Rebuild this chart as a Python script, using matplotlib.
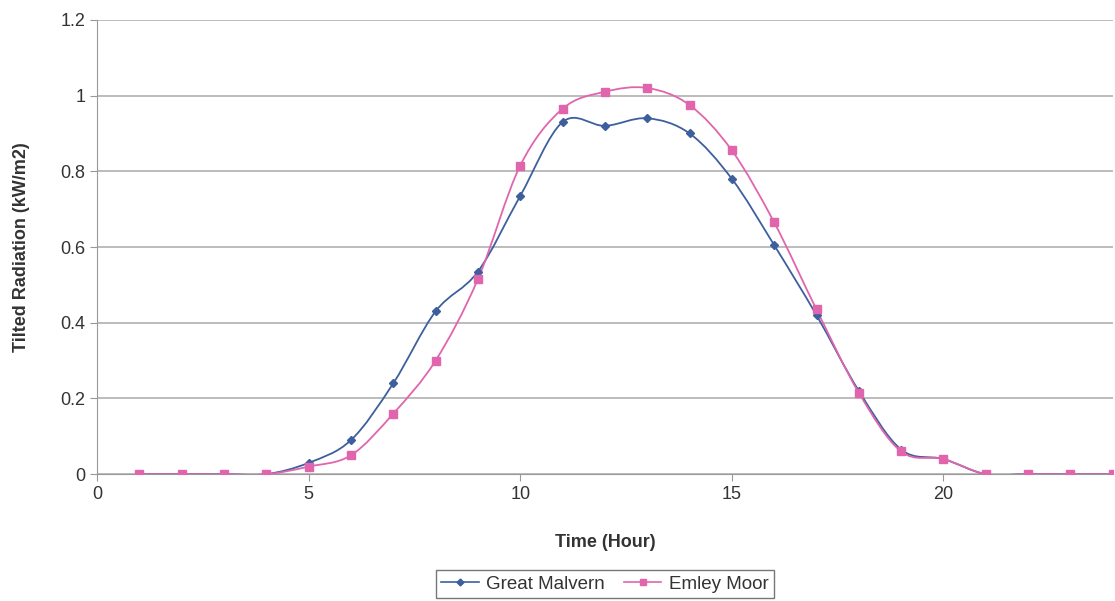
import matplotlib
matplotlib.use("Agg")
import matplotlib.pyplot as plt
from matplotlib.path import Path
from matplotlib.patches import PathPatch
from matplotlib.lines import Line2D

plt.rcParams["font.family"] = ["Liberation Sans", "DejaVu Sans"]

hours = list(range(1, 25))
great_malvern = [0, 0, 0, 0, 0.03, 0.09, 0.24, 0.43, 0.535, 0.735, 0.93, 0.92,
                 0.94, 0.90, 0.78, 0.605, 0.42, 0.22, 0.065, 0.04, 0, 0, 0, 0]
emley_moor = [0, 0, 0, 0, 0.02, 0.05, 0.16, 0.30, 0.515, 0.815, 0.965, 1.01,
              1.02, 0.975, 0.855, 0.665, 0.435, 0.215, 0.06, 0.04, 0, 0, 0, 0]

BLUE = "#3d5f9e"
PINK = "#e065ad"


def smooth_path(x, y, t=1 / 6):
    # Excel-style smoothed line as cubic Bezier segments
    verts = [(x[0], y[0])]
    codes = [Path.MOVETO]
    n = len(x)
    for i in range(n - 1):
        x0, y0 = (x[i - 1], y[i - 1]) if i > 0 else (x[i], y[i])
        x3, y3 = (x[i + 2], y[i + 2]) if i + 2 < n else (x[i + 1], y[i + 1])
        c1 = (x[i] + (x[i + 1] - x0) * t, y[i] + (y[i + 1] - y0) * t)
        c2 = (x[i + 1] - (x3 - x[i]) * t, y[i + 1] - (y3 - y[i]) * t)
        verts += [c1, c2, (x[i + 1], y[i + 1])]
        codes += [Path.CURVE4] * 3
    return Path(verts, codes)


fig, ax = plt.subplots(figsize=(11.15, 6.01), dpi=100)
fig.subplots_adjust(left=0.087, right=0.998, top=0.967, bottom=0.211)

for vals, color, marker, ms in [(great_malvern, BLUE, "D", 4.5),
                                (emley_moor, PINK, "s", 6)]:
    ax.add_patch(PathPatch(smooth_path(hours, vals), facecolor="none",
                           edgecolor=color, lw=1.3, zorder=3))
    ax.plot(hours, vals, linestyle="none", marker=marker, ms=ms,
            color=color, zorder=4)

ax.set_xlim(0, 24)
ax.set_ylim(0, 1.2)
ax.set_xticks([0, 5, 10, 15, 20])
ax.set_yticks([0, 0.2, 0.4, 0.6, 0.8, 1, 1.2])
ax.set_yticklabels(["0", "0.2", "0.4", "0.6", "0.8", "1", "1.2"])
ax.yaxis.grid(True, color="#b0b0b0", lw=1.2)
ax.set_axisbelow(True)
for s in ["top", "right"]:
    ax.spines[s].set_visible(False)
for s in ["left", "bottom"]:
    ax.spines[s].set_color("#999999")
ax.tick_params(colors="#999999", labelcolor="#333333", labelsize=13,
               length=5)

ax.set_xlabel("Time (Hour)", fontsize=13, fontweight="bold", color="#333333",
              labelpad=22)
ax.set_ylabel("Tilted Radiation (kW/m2)", fontsize=13, fontweight="bold",
              color="#333333", labelpad=22)

handles = [Line2D([], [], color=BLUE, marker="D", ms=3.5, lw=1.2),
           Line2D([], [], color=PINK, marker="s", ms=4.5, lw=1.2)]
leg = ax.legend(handles, ["Great Malvern", "Emley Moor"], ncol=2,
                loc="upper center", bbox_to_anchor=(0.5, -0.19),
                fontsize=13.5, frameon=True, fancybox=False, handlelength=2,
                columnspacing=1.0, handletextpad=0.4, borderpad=0.3)
leg.get_frame().set_edgecolor("#555555")
for t in leg.get_texts():
    t.set_color("#333333")

fig.savefig("out.png", dpi=100)
